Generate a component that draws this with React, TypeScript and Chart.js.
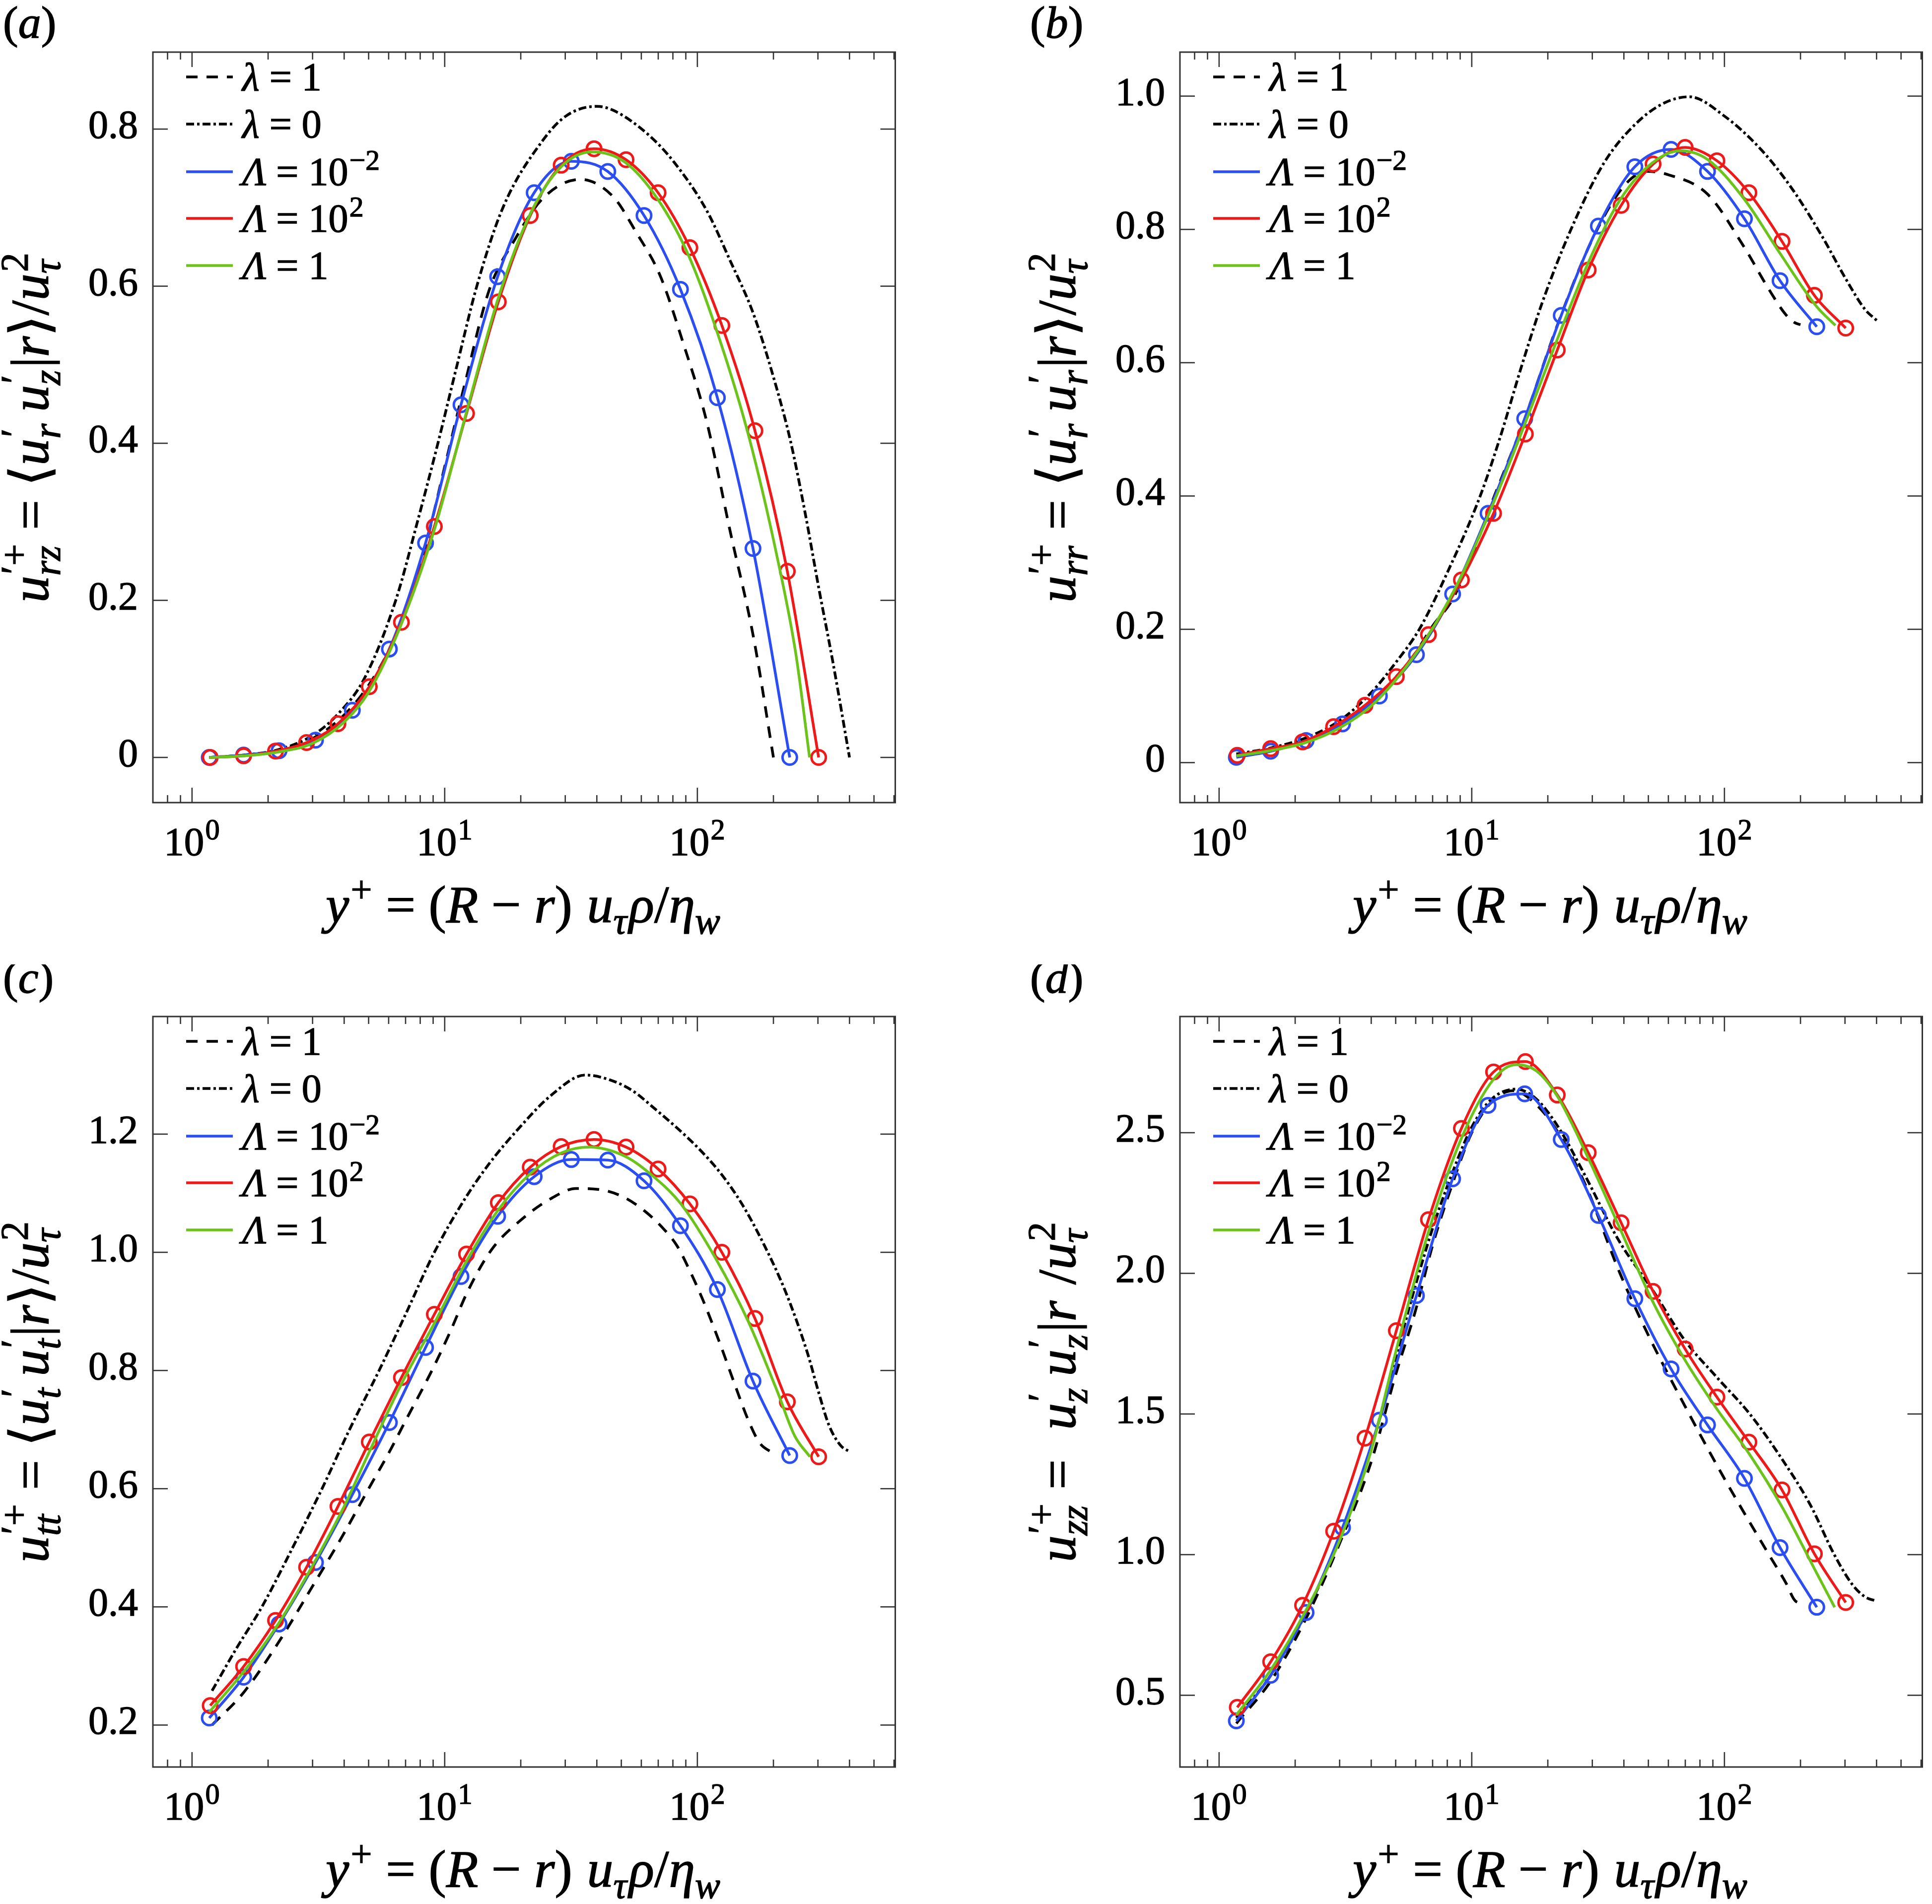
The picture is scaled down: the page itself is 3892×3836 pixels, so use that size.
import React, { useEffect, useRef } from 'react';
import { Chart, registerables } from 'chart.js';

Chart.register(...registerables);

const FONT = '"Liberation Serif", "Times New Roman", Times, "DejaVu Serif", serif';
const BLUE = '#2b4ef2';
const RED = '#ee1a1a';
const GREEN = '#6cc31a';
const BLACK = '#000000';
const FRAME = '#333333';

// ---------- shared x data (y+) ----------
const xBlue = [1.17, 1.6, 2.21, 3.08, 4.31, 6.04, 8.4, 11.6, 16.2, 22.6, 31.7, 44.2, 61.5, 85.7, 120, 166, 232];
const xRed = [1.18, 1.6, 2.14, 2.84, 3.78, 5.03, 6.74, 9.1, 12.2, 16.3, 21.8, 28.9, 39.0, 52.2, 69.9, 93.4, 125, 169, 227, 302];

const xRange = [0.73, 607];
const xMajorTicks = [1, 10, 100];
const xMajorExp = ['0', '1', '2'];
const xMinorTicks = [0.8, 0.9, 2, 3, 4, 5, 6, 7, 8, 9, 20, 30, 40, 50, 60, 70, 80, 90, 200, 300, 400, 500, 600];

const legendLabels = ['λ = 1', 'λ = 0', 'Λ = 10⁻²', 'Λ = 10²', 'Λ = 1'];

// ---------- panel (a) ----------
const aYRange = [-0.0575, 0.898];
const aYTicks = [0, 0.2, 0.4, 0.6, 0.8];
const aYLabels = ['0', '0.2', '0.4', '0.6', '0.8'];
const aBlue = [0.0, 0.003, 0.0085, 0.022, 0.06, 0.138, 0.273, 0.449, 0.612, 0.719, 0.759, 0.746, 0.69, 0.596, 0.458, 0.266, 0.0];
const aRed = [0.0, 0.002, 0.008, 0.019, 0.043, 0.09, 0.172, 0.294, 0.438, 0.58, 0.69, 0.754, 0.775, 0.761, 0.719, 0.649, 0.55, 0.416, 0.237, 0.0];
const aGreenX = [1.17, 1.6, 2.2, 3.0, 4.0, 5.0, 6.7, 9.1, 12.2, 16.3, 21.8, 28.9, 38.3, 51.6, 69.6, 93.2, 124, 160, 206, 245, 278];
const aGreenY = [0.0, 0.002, 0.007, 0.018, 0.045, 0.083, 0.168, 0.29, 0.44, 0.585, 0.692, 0.752, 0.771, 0.758, 0.711, 0.636, 0.527, 0.408, 0.258, 0.133, 0.0];
const aLam1X = [1.17, 1.6, 2.2, 3.0, 4.0, 5.0, 6.0, 7.0, 8.4, 10, 12, 15, 19, 24.5, 34.4, 46.4, 57.4, 71.1, 88, 109, 134.6, 167, 200];
const aLam1Y = [0.0, 0.003, 0.009, 0.024, 0.054, 0.092, 0.136, 0.19, 0.27, 0.37, 0.475, 0.595, 0.66, 0.712, 0.736, 0.714, 0.668, 0.614, 0.527, 0.427, 0.289, 0.152, 0.0];
const aLam0X = [1.17, 1.6, 2.2, 3.0, 3.8, 4.8, 6.4, 7.8, 9.4, 11.2, 13.4, 17, 24.5, 30.3, 40, 46.4, 63.9, 80.8, 109, 134.6, 167, 206, 234, 266, 303, 344, 400];
const aLam0Y = [0.0, 0.003, 0.01, 0.028, 0.056, 0.1, 0.2, 0.3, 0.4, 0.5, 0.6, 0.7, 0.786, 0.817, 0.829, 0.824, 0.793, 0.758, 0.696, 0.633, 0.564, 0.47, 0.402, 0.314, 0.214, 0.121, 0.0];

// ---------- panel (b) ----------
const bYRange = [-0.06, 1.066];
const bYTicks = [0, 0.2, 0.4, 0.6, 0.8, 1.0];
const bYLabels = ['0', '0.2', '0.4', '0.6', '0.8', '1.0'];
const bBlue = [0.008, 0.017, 0.033, 0.058, 0.1, 0.162, 0.253, 0.374, 0.516, 0.671, 0.805, 0.894, 0.92, 0.887, 0.816, 0.723, 0.654];
const bRed = [0.011, 0.021, 0.031, 0.054, 0.086, 0.129, 0.192, 0.274, 0.374, 0.493, 0.619, 0.739, 0.836, 0.898, 0.923, 0.903, 0.855, 0.782, 0.701, 0.652];
const bGreenX = [1.17, 1.6, 2.2, 3.0, 4.0, 5.0, 6.7, 9.1, 12.2, 16.3, 21.8, 28.9, 38, 50, 66.8, 85.7, 120, 166, 232, 275];
const bGreenY = [0.01, 0.018, 0.03, 0.052, 0.085, 0.124, 0.19, 0.28, 0.39, 0.51, 0.635, 0.75, 0.84, 0.895, 0.918, 0.905, 0.845, 0.764, 0.684, 0.656];
const bLam1X = [1.17, 1.6, 2.2, 3.0, 4.0, 5.0, 6.0, 7.0, 8.4, 10, 12, 16, 22, 30, 40, 49.3, 60, 85.7, 119, 150, 175, 190, 200];
const bLam1Y = [0.01, 0.018, 0.032, 0.055, 0.09, 0.128, 0.165, 0.205, 0.245, 0.31, 0.39, 0.51, 0.66, 0.785, 0.865, 0.887, 0.882, 0.853, 0.775, 0.71, 0.672, 0.66, 0.657];
const bLam0X = [1.17, 1.6, 2.2, 3.0, 4.0, 5.0, 6.2, 8.0, 10.8, 13, 15.9, 19, 24.7, 33.4, 45, 58, 72.6, 100, 141, 186, 244, 303, 360, 402];
const bLam0Y = [0.013, 0.022, 0.037, 0.063, 0.105, 0.15, 0.2, 0.285, 0.4, 0.49, 0.6, 0.69, 0.8, 0.9, 0.96, 0.99, 0.999, 0.97, 0.918, 0.86, 0.789, 0.725, 0.68, 0.663];

// ---------- panel (c) ----------
const cYRange = [0.129, 1.399];
const cYTicks = [0.2, 0.4, 0.6, 0.8, 1.0, 1.2];
const cYLabels = ['0.2', '0.4', '0.6', '0.8', '1.0', '1.2'];
const cBlue = [0.212, 0.281, 0.371, 0.475, 0.59, 0.712, 0.839, 0.959, 1.061, 1.128, 1.157, 1.156, 1.121, 1.045, 0.937, 0.782, 0.656];
const cRed = [0.233, 0.299, 0.377, 0.467, 0.57, 0.679, 0.788, 0.895, 0.997, 1.084, 1.144, 1.179, 1.191, 1.178, 1.141, 1.082, 1.0, 0.888, 0.747, 0.654];
const cGreenX = [1.17, 1.6, 2.2, 3.0, 4.0, 5.0, 6.7, 9.1, 12.2, 16.3, 21.8, 28.9, 37.3, 52, 65, 86, 118, 159, 207, 243, 279];
const cGreenY = [0.222, 0.29, 0.372, 0.47, 0.57, 0.66, 0.775, 0.88, 0.985, 1.072, 1.133, 1.168, 1.178, 1.162, 1.133, 1.082, 0.99, 0.883, 0.765, 0.689, 0.654];
const cLam1X = [1.2, 1.6, 2.2, 3.0, 4.0, 5.0, 6.0, 7.0, 8.9, 10.5, 12.3, 15.3, 20.2, 26.6, 33.1, 41.3, 51.3, 61.4, 71.9, 82.8, 93.3, 105, 123, 141, 159, 176, 199];
const cLam1Y = [0.2, 0.255, 0.34, 0.435, 0.525, 0.6, 0.66, 0.715, 0.8, 0.865, 0.933, 1.004, 1.056, 1.092, 1.108, 1.106, 1.093, 1.071, 1.044, 1.012, 0.969, 0.92, 0.845, 0.775, 0.716, 0.678, 0.66];
const cLam0X = [1.2, 1.5, 1.89, 2.5, 3.27, 4.2, 5.5, 7.0, 9.1, 12, 15, 19.2, 26.6, 36, 45.6, 55.6, 67.8, 82.8, 101, 123, 150, 184, 224, 273, 301, 332, 369, 403];
const cLam0Y = [0.258, 0.33, 0.4, 0.5, 0.6, 0.7, 0.8, 0.895, 1.0, 1.09, 1.15, 1.205, 1.267, 1.3, 1.291, 1.273, 1.243, 1.211, 1.176, 1.135, 1.082, 1.012, 0.932, 0.829, 0.765, 0.707, 0.673, 0.662];

// ---------- panel (d) ----------
const dYRange = [0.245, 2.913];
const dYTicks = [0.5, 1.0, 1.5, 2.0, 2.5];
const dYLabels = ['0.5', '1.0', '1.5', '2.0', '2.5'];
const dBlue = [0.409, 0.571, 0.794, 1.096, 1.478, 1.921, 2.336, 2.597, 2.638, 2.476, 2.206, 1.91, 1.66, 1.461, 1.271, 1.025, 0.813];
const dRed = [0.457, 0.619, 0.82, 1.083, 1.414, 1.796, 2.191, 2.515, 2.716, 2.753, 2.634, 2.429, 2.18, 1.936, 1.731, 1.56, 1.4, 1.23, 1.003, 0.83];
const dGreenX = [1.17, 1.6, 2.2, 3.0, 4.0, 5.0, 6.7, 9.1, 12.2, 15, 18, 21.8, 28.9, 39, 52, 70, 93, 125, 169, 227, 273];
const dGreenY = [0.43, 0.59, 0.8, 1.05, 1.37, 1.72, 2.14, 2.48, 2.69, 2.742, 2.72, 2.63, 2.41, 2.15, 1.9, 1.69, 1.52, 1.36, 1.17, 0.95, 0.813];
const dLam1X = [1.17, 1.6, 2.2, 3.0, 4.0, 5.0, 6.0, 7.0, 8.4, 10, 12, 14.6, 18, 22, 28, 38.6, 50, 72.5, 100, 150, 175, 191, 207];
const dLam1Y = [0.4, 0.55, 0.77, 1.04, 1.33, 1.64, 1.87, 2.1, 2.32, 2.5, 2.61, 2.649, 2.6, 2.5, 2.32, 2.0, 1.78, 1.5, 1.27, 1.0, 0.9, 0.835, 0.826];
const dLam0X = [1.17, 1.6, 2.2, 3.0, 4.0, 5.0, 6.0, 7.0, 8.4, 10, 12, 15, 18, 22, 28, 38, 52, 69.9, 93.4, 126, 166, 219, 271, 320, 360, 400];
const dLam0Y = [0.42, 0.57, 0.79, 1.06, 1.38, 1.7, 1.96, 2.16, 2.36, 2.52, 2.62, 2.655, 2.62, 2.52, 2.35, 2.12, 1.94, 1.76, 1.63, 1.5, 1.35, 1.176, 1.003, 0.895, 0.85, 0.835];

// ---------- layout ----------
const CANVAS_W = 1823;
const CANVAS_H = 1893;
const PLOT_L = 308;
const PLOT_T = 105;
const PLOT_W = 1513;
const PLOT_H = 1512;
const TEXT_STROKE = 1.4;

type Seg = { t?: string; it?: boolean; sup?: string; sub?: string; supIt?: boolean; subIt?: boolean; sp?: number };

const fnt = (size: number, it?: boolean) => `${it ? 'italic ' : ''}${size}px ${FONT}`;
const SCRIPT = 0.72;

function paint(ctx: CanvasRenderingContext2D, text: string, x: number, y: number) {
  ctx.fillText(text, x, y);
  ctx.strokeText(text, x, y);
}

function segWidth(ctx: CanvasRenderingContext2D, s: Seg, size: number) {
  if (s.sp != null) return s.sp * size;
  if (s.t != null) {
    ctx.font = fnt(size, s.it);
    return ctx.measureText(s.t).width;
  }
  const ss = size * SCRIPT;
  let a = 0;
  let b = 0;
  if (s.sup) {
    ctx.font = fnt(ss, s.supIt);
    a = ctx.measureText(s.sup).width;
  }
  if (s.sub) {
    ctx.font = fnt(ss, s.subIt !== false);
    b = ctx.measureText(s.sub).width;
  }
  return Math.max(a, b) + size * 0.04;
}

function drawRich(ctx: CanvasRenderingContext2D, segs: Seg[], x: number, y: number, size: number, align: 'left' | 'center') {
  let w = 0;
  for (const s of segs) w += segWidth(ctx, s, size);
  let cx = align === 'center' ? x - w / 2 : x;
  ctx.textAlign = 'left';
  ctx.textBaseline = 'alphabetic';
  ctx.fillStyle = '#000';
  ctx.strokeStyle = '#000';
  ctx.lineWidth = TEXT_STROKE;
  ctx.setLineDash([]);
  for (const s of segs) {
    if (s.t != null) {
      ctx.font = fnt(size, s.it);
      paint(ctx, s.t, cx, y);
    } else if (s.sup != null || s.sub != null) {
      const ss = size * SCRIPT;
      if (s.sup) {
        ctx.font = fnt(ss, s.supIt);
        paint(ctx, s.sup, cx + size * 0.03, y - size * 0.39);
      }
      if (s.sub) {
        ctx.font = fnt(ss, s.subIt !== false);
        paint(ctx, s.sub, cx, y + size * 0.22);
      }
    }
    cx += segWidth(ctx, s, size);
  }
}

function line(ctx: CanvasRenderingContext2D, x1: number, y1: number, x2: number, y2: number) {
  ctx.beginPath();
  ctx.moveTo(x1, y1);
  ctx.lineTo(x2, y2);
  ctx.stroke();
}

type Spec = {
  tag: string;
  tagY: number;
  comp: string[];
  brackets: boolean;
  yRange: number[];
  yTicks: number[];
  yLabels: string[];
  blue: number[];
  red: number[];
  greenX: number[];
  greenY: number[];
  l1X: number[];
  l1Y: number[];
  l0X: number[];
  l0Y: number[];
};

const PANELS: { spec: Spec; left: number; top: number }[] = [
  { left: 0, top: 0, spec: { tag: 'a', tagY: 76, comp: ['rz', 'r', 'z'], brackets: true, yRange: aYRange, yTicks: aYTicks, yLabels: aYLabels, blue: aBlue, red: aRed, greenX: aGreenX, greenY: aGreenY, l1X: aLam1X, l1Y: aLam1Y, l0X: aLam0X, l0Y: aLam0Y } },
  { left: 2069, top: 0, spec: { tag: 'b', tagY: 76, comp: ['rr', 'r', 'r'], brackets: true, yRange: bYRange, yTicks: bYTicks, yLabels: bYLabels, blue: bBlue, red: bRed, greenX: bGreenX, greenY: bGreenY, l1X: bLam1X, l1Y: bLam1Y, l0X: bLam0X, l0Y: bLam0Y } },
  { left: 0, top: 1943, spec: { tag: 'c', tagY: 57, comp: ['tt', 't', 't'], brackets: true, yRange: cYRange, yTicks: cYTicks, yLabels: cYLabels, blue: cBlue, red: cRed, greenX: cGreenX, greenY: cGreenY, l1X: cLam1X, l1Y: cLam1Y, l0X: cLam0X, l0Y: cLam0Y } },
  { left: 2069, top: 1943, spec: { tag: 'd', tagY: 57, comp: ['zz', 'z', 'z'], brackets: false, yRange: dYRange, yTicks: dYTicks, yLabels: dYLabels, blue: dBlue, red: dRed, greenX: dGreenX, greenY: dGreenY, l1X: dLam1X, l1Y: dLam1Y, l0X: dLam0X, l0Y: dLam0Y } },
];

const DASH_L1 = [23, 18];
const DASH_L0 = [16, 6, 5, 6];

const xTitle: Seg[] = [
  { t: 'y', it: true }, { sup: '+', supIt: false }, { t: ' = ' }, { t: '(' }, { t: 'R', it: true }, { t: ' − ' },
  { t: 'r', it: true }, { t: ')' }, { sp: 0.28 }, { t: 'u', it: true }, { sub: 'τ' }, { t: 'ρ', it: true }, { t: '/' },
  { t: 'η', it: true }, { sub: 'w' },
];

function yTitle(spec: Spec): Seg[] {
  const [c0, c1, c2] = spec.comp;
  return [
    { t: 'u', it: true }, { sup: '′+', supIt: false, sub: c0 }, { t: ' = ' },
    spec.brackets ? { t: '⟨' } : { sp: 0.3 }, { t: 'u', it: true }, { sup: '′', sub: c1 }, { sp: 0.18 },
    { t: 'u', it: true }, { sup: '′', sub: c2 }, { t: '|' }, { t: 'r', it: true }, spec.brackets ? { t: '⟩' } : { sp: 0.3 },
    { t: '/' }, { t: 'u', it: true }, { sup: '2', supIt: false, sub: 'τ' },
  ];
}

const legendRows = [
  { color: BLACK, width: 5.5, dash: DASH_L1 },
  { color: BLACK, width: 5.5, dash: DASH_L0 },
  { color: BLUE, width: 5.5, dash: [] as number[] },
  { color: RED, width: 5.5, dash: [] as number[] },
  { color: GREEN, width: 5.5, dash: [] as number[] },
];
const legendSegs: Seg[][] = [
  [{ t: 'λ', it: true }, { t: ' = 1' }],
  [{ t: 'λ', it: true }, { t: ' = 0' }],
  [{ t: 'Λ', it: true }, { t: ' = 10' }, { sup: '−2', supIt: false }],
  [{ t: 'Λ', it: true }, { t: ' = 10' }, { sup: '2', supIt: false }],
  [{ t: 'Λ', it: true }, { t: ' = 1' }],
];
const LEGEND_ROW_Y = [50, 145, 241, 335, 430];

function decorPlugin(spec: Spec) {
  return {
    id: 'decor' + spec.tag,
    afterDraw(chart: any) {
      const ctx: CanvasRenderingContext2D = chart.ctx;
      const { left, top, right, bottom } = chart.chartArea;
      const xs = chart.scales.x;
      const ys = chart.scales.y;
      ctx.save();
      ctx.setLineDash([]);
      ctx.strokeStyle = FRAME;
      ctx.lineWidth = 3;
      ctx.strokeRect(left, top, right - left, bottom - top);
      ctx.lineWidth = 2.6;
      for (const v of xMinorTicks) {
        const px = xs.getPixelForValue(v);
        line(ctx, px, bottom, px, bottom - 15);
        line(ctx, px, top, px, top + 15);
      }
      for (const v of xMajorTicks) {
        const px = xs.getPixelForValue(v);
        line(ctx, px, bottom, px, bottom - 30);
        line(ctx, px, top, px, top + 30);
      }
      for (const v of spec.yTicks) {
        const py = ys.getPixelForValue(v);
        line(ctx, left, py, left + 30, py);
        line(ctx, right, py, right - 30, py);
      }
      ctx.fillStyle = '#000';
      ctx.strokeStyle = '#000';
      ctx.lineWidth = TEXT_STROKE;
      ctx.font = fnt(80);
      ctx.textAlign = 'right';
      ctx.textBaseline = 'middle';
      spec.yTicks.forEach((v, i) => paint(ctx, spec.yLabels[i], left - 30, ys.getPixelForValue(v) - 3));
      xMajorTicks.forEach((v, i) => {
        drawRich(ctx, [{ t: '10' }, { sup: xMajorExp[i], supIt: false }], xs.getPixelForValue(v), bottom + 106, 81, 'center');
      });
      legendRows.forEach((r, i) => {
        const ly = top + LEGEND_ROW_Y[i];
        ctx.strokeStyle = r.color;
        ctx.lineWidth = r.width;
        ctx.setLineDash(r.dash);
        line(ctx, left + 67, ly, left + 161, ly);
        ctx.setLineDash([]);
        drawRich(ctx, legendSegs[i], left + 180, ly + 27, 80, 'left');
      });
      drawRich(ctx, xTitle, (left + right) / 2, bottom + 241, 106, 'center');
      ctx.save();
      ctx.translate(97, (top + bottom) / 2);
      ctx.rotate(-Math.PI / 2);
      drawRich(ctx, yTitle(spec), 0, 0, 108, 'center');
      ctx.restore();
      drawRich(ctx, [{ t: '(' }, { t: spec.tag, it: true }, { t: ')' }], 6, spec.tagY, 92, 'left');
      ctx.restore();
    },
  };
}

const pts = (xs: number[], ys: number[]) => xs.map((x, i) => ({ x, y: ys[i] }));

function makeConfig(spec: Spec): any {
  const marker = { pointRadius: 14.5, pointBorderWidth: 5, pointBackgroundColor: 'rgba(0,0,0,0)' };
  return {
    type: 'line',
    data: {
      datasets: [
        { label: legendLabels[4], data: pts(spec.greenX, spec.greenY), borderColor: GREEN, borderWidth: 5.5, pointRadius: 0, cubicInterpolationMode: 'monotone', fill: false },
        { label: legendLabels[3], data: pts(xRed, spec.red), borderColor: RED, borderWidth: 5.5, pointBorderColor: RED, ...marker, cubicInterpolationMode: 'monotone', fill: false },
        { label: legendLabels[2], data: pts(xBlue, spec.blue), borderColor: BLUE, borderWidth: 5.5, pointBorderColor: BLUE, ...marker, cubicInterpolationMode: 'monotone', fill: false },
        { label: legendLabels[1], data: pts(spec.l0X, spec.l0Y), borderColor: BLACK, borderWidth: 5.5, borderDash: DASH_L0, pointRadius: 0, cubicInterpolationMode: 'monotone', fill: false },
        { label: legendLabels[0], data: pts(spec.l1X, spec.l1Y), borderColor: BLACK, borderWidth: 5.5, borderDash: DASH_L1, pointRadius: 0, cubicInterpolationMode: 'monotone', fill: false },
      ],
    },
    options: {
      responsive: false,
      animation: false,
      devicePixelRatio: 1,
      events: [],
      layout: { padding: { left: PLOT_L, top: PLOT_T, right: CANVAS_W - PLOT_L - PLOT_W, bottom: CANVAS_H - PLOT_T - PLOT_H } },
      plugins: { legend: { display: false }, tooltip: { enabled: false }, title: { display: false } },
      scales: {
        x: { type: 'logarithmic', min: xRange[0], max: xRange[1], display: false },
        y: { type: 'linear', min: spec.yRange[0], max: spec.yRange[1], display: false },
      },
    },
    plugins: [decorPlugin(spec)],
  };
}

function Panel({ spec, left, top }: { spec: Spec; left: number; top: number }) {
  const ref = useRef<HTMLCanvasElement>(null);
  useEffect(() => {
    const chart = new Chart(ref.current as HTMLCanvasElement, makeConfig(spec));
    let alive = true;
    const fonts: any = (document as any).fonts;
    if (fonts && fonts.load) {
      Promise.all([
        fonts.load('80px "Liberation Serif"'),
        fonts.load('italic 80px "Liberation Serif"'),
      ])
        .then(() => fonts.ready)
        .then(() => {
          if (alive) chart.render();
        })
        .catch(() => {});
    }
    return () => {
      alive = false;
      chart.destroy();
    };
  }, [spec]);
  return (
    <canvas
      ref={ref}
      width={CANVAS_W}
      height={CANVAS_H}
      style={{ position: 'absolute', left, top, width: CANVAS_W, height: CANVAS_H }}
    />
  );
}

export default function App() {
  return (
    <div style={{ position: 'absolute', left: 0, top: 0, width: 3892, height: 3836, overflow: 'hidden', background: '#fff' }}>
      <div aria-hidden="true" style={{ position: 'absolute', left: -5000, top: 0, fontFamily: FONT, fontSize: 20 }}>
        λ Λ <i>u τ ρ η</i>
      </div>
      {PANELS.map((p) => (
        <Panel key={p.spec.tag} spec={p.spec} left={p.left} top={p.top} />
      ))}
    </div>
  );
}
